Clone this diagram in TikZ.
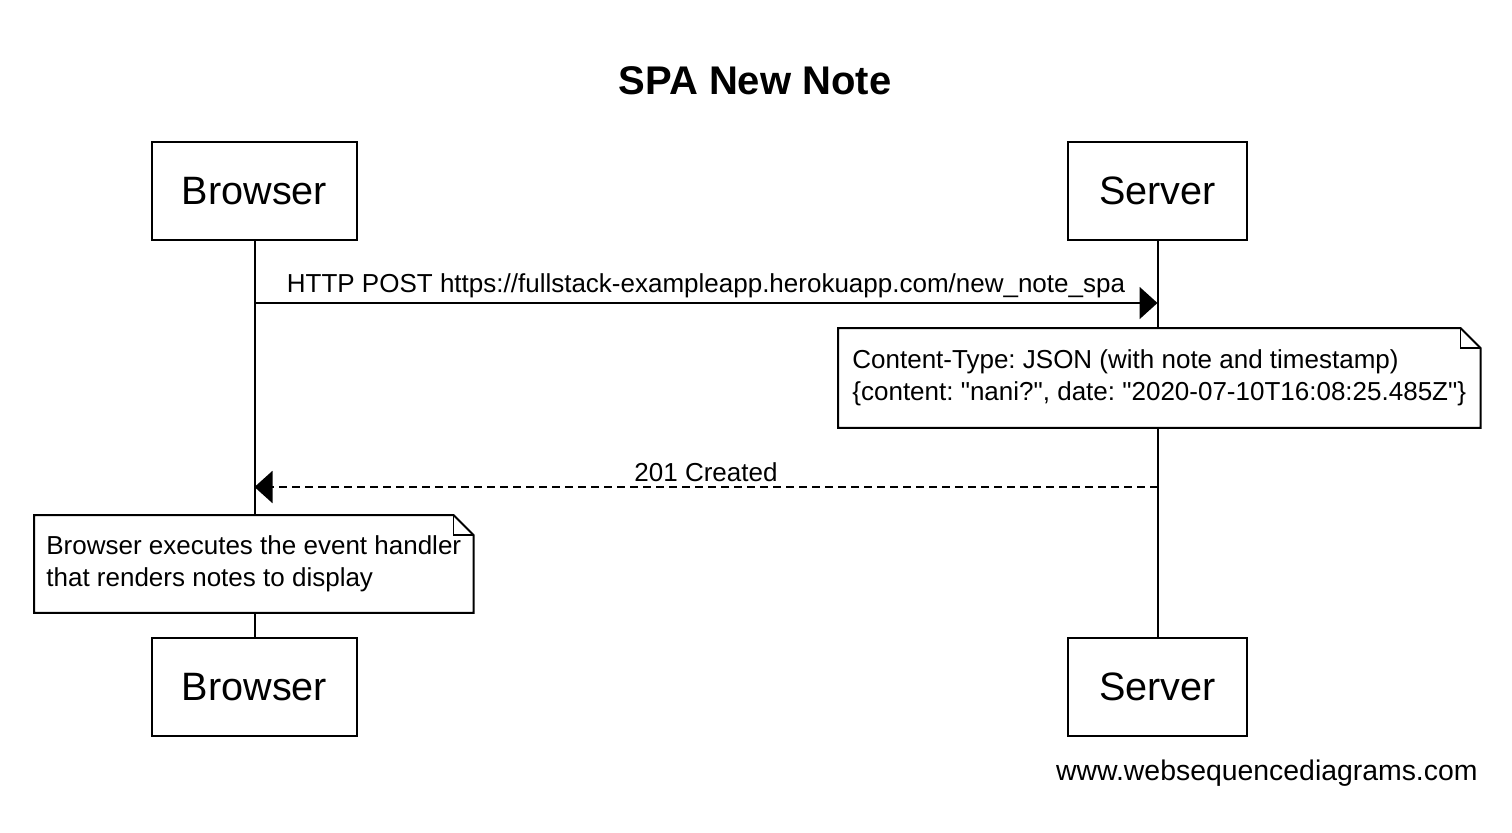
\documentclass[tikz,border=0pt]{standalone}
\usepackage{fontspec}
\setmainfont{Liberation Sans}[Ligatures=TeXOff]
\usetikzlibrary{arrows.meta,positioning}
\tikzstyle{actor} = [rectangle, draw=black, line width=1pt, minimum height=49pt, font=\fontsize{19.8}{22}\selectfont]
\tikzstyle{notebox} = [rectangle, fill=white, anchor=north west, inner ysep=0pt, align=left, font=\fontsize{13}{16}\selectfont]
\tikzstyle{msg} = [line width=1pt, -{Triangle[length=9pt,width=16pt]}]
\tikzstyle{msglabel} = [font=\fontsize{13}{14}\selectfont, inner sep=2pt]

\begin{document}
\frenchspacing
\begin{tikzpicture}[x=0.5pt, y=-0.5pt]
\useasboundingbox (0,0) rectangle (1512,832);
% title
\node (title) at (755,81) {\fontsize{20}{24}\selectfont\bfseries SPA New Note};

% participants
\node (brtop) [actor, minimum width=102.5pt] at (254.5,191) {Browser};
\node (svtop) [actor, minimum width=89.5pt] at (1157.5,191) {Server};
\node (brbot) [actor, minimum width=102.5pt] at (254.5,687) {Browser};
\node (svbot) [actor, minimum width=89.5pt] at (1157.5,687) {Server};

% lifelines
\draw [line width=1pt] (brtop) -- (brbot);
\draw [line width=1pt] (svtop) -- (svbot);

% messages
\coordinate (bpost) at (254.5,303);
\coordinate (spost) at (1157.5,303);
\coordinate (sok) at (1157.5,487);
\coordinate (bok) at (254.5,487);
\draw [msg] (bpost) -- node[msglabel, above] {HTTP POST https://fullstack-exampleapp.herokuapp.com/new\_note\_spa} (spost);
\draw [msg, dash pattern=on 4pt off 2.5pt] (sok) -- node[msglabel, above] {201 Created} (bok);

% notes
\node (note1) [notebox, minimum height=49.5pt, inner xsep=7pt] at (838,328)
  {Content-Type: JSON (with note and timestamp)\\{\{}content: "nani?", date: "2020-07-10T16:08:25.485Z"{\}}};
\node (note2) [notebox, minimum height=48.5pt, inner xsep=6pt] at (34,515)
  {Browser executes the event handler\\that renders notes to display};
\foreach \n in {note1,note2}{
  \draw [line width=1pt] (\n.north west) -- ([xshift=-10pt]\n.north east) -- ([yshift=-10pt]\n.north east) -- (\n.south east) -- (\n.south west) -- cycle;
  \draw [line width=0.8pt] ([xshift=-10pt]\n.north east) -- ([xshift=-10pt,yshift=-10pt]\n.north east) -- ([yshift=-10pt]\n.north east);
}

% watermark
\node (wsd) [anchor=east, font=\fontsize{14.2}{16}\selectfont, inner sep=0pt] at (1478,773) {www.websequencediagrams.com};
\end{tikzpicture}
\end{document}
